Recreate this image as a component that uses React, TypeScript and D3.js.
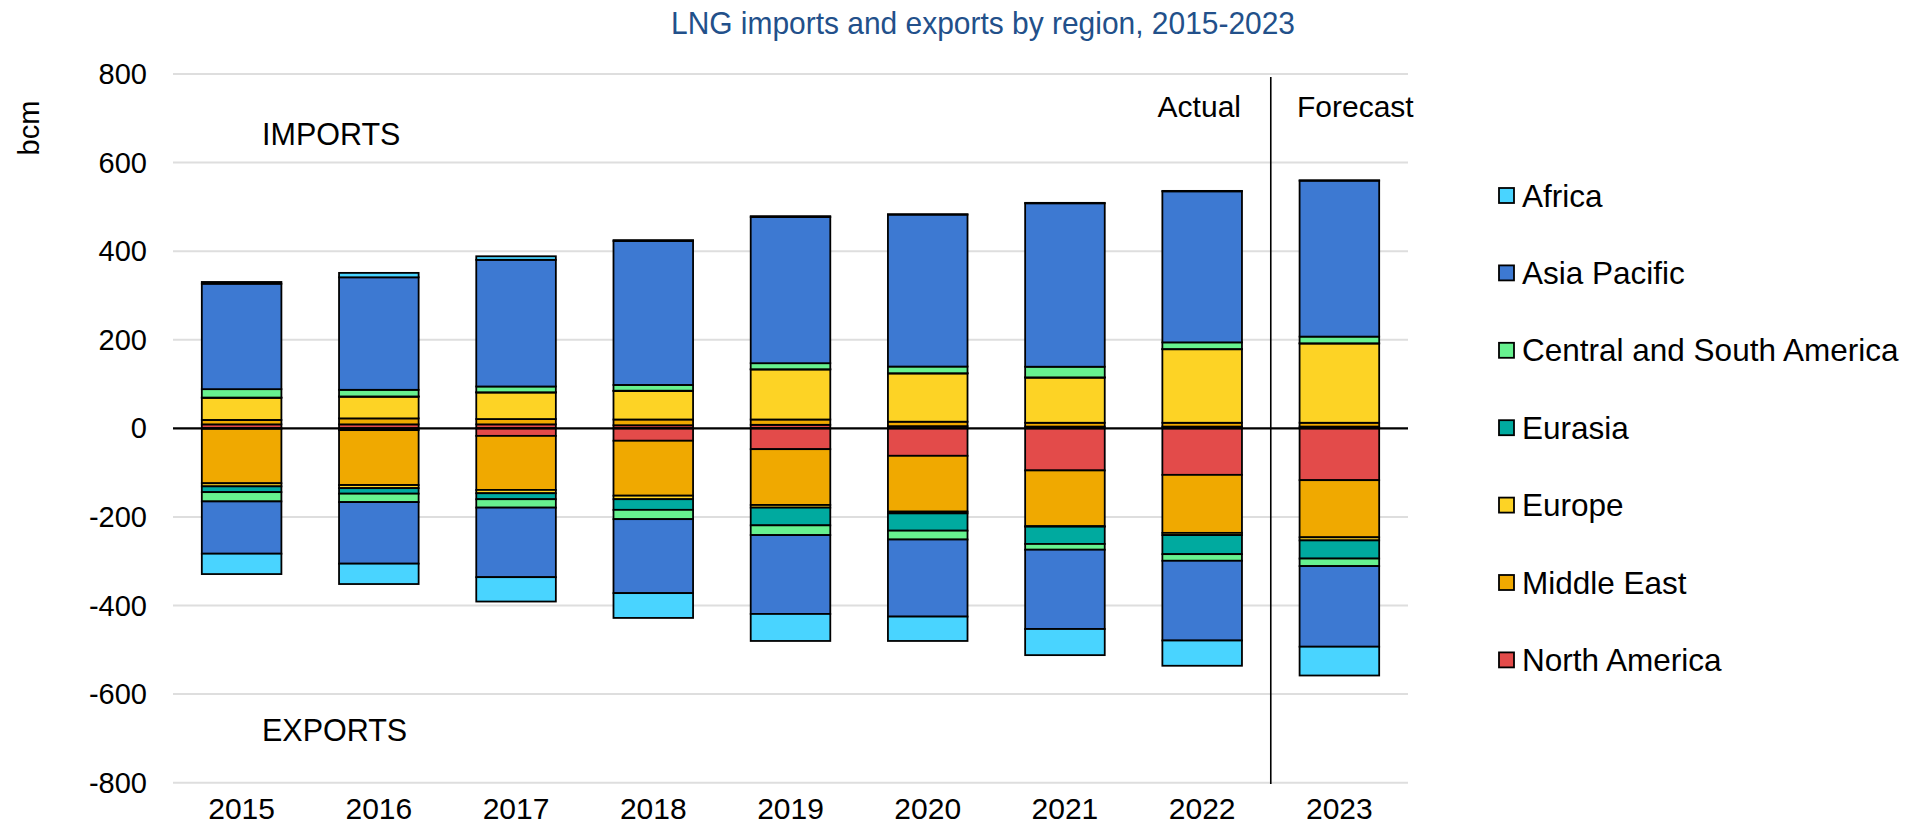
import React from "react";
import * as d3 from "d3";

const years = ["2015", "2016", "2017", "2018", "2019", "2020", "2021", "2022", "2023"];
// stacking order from the zero line outward
const regions = ["North America", "Middle East", "Europe", "Eurasia", "Central and South America", "Asia Pacific", "Africa"];
const legendOrder = ["Africa", "Asia Pacific", "Central and South America", "Eurasia", "Europe", "Middle East", "North America"];
const colors: Record<string, string> = {
  "Africa": "#49D4FF",
  "Asia Pacific": "#3D79D2",
  "Central and South America": "#67F18F",
  "Eurasia": "#00AA9F",
  "Europe": "#FDD325",
  "Middle East": "#F0A900",
  "North America": "#E34B4A",
};

// imports (bcm)
const impNorthAmerica = [9, 9, 9, 7, 8, 5, 4, 4, 4];
const impMiddleEast = [10, 13.5, 12, 13, 12, 10, 8.6, 8.6, 8.6];
const impEurope = [50, 49, 60, 64.5, 113, 109, 102, 166, 179];
const impEurasia = [0.5, 0.5, 0.5, 0.5, 0.5, 0.5, 0.5, 0.5, 0.5];
const impCSA = [19, 15, 13, 13, 13.6, 15, 24, 15, 15];
const impAsiaPacific = [238, 254, 286, 325, 330, 343, 369, 341, 352];
const impAfrica = [4, 10, 8, 2, 2, 1, 1, 1, 1];

// exports (bcm, drawn below zero)
const expNorthAmerica = [1, 4, 17, 28, 47, 62, 95, 105, 117];
const expMiddleEast = [123, 124, 122, 124, 126, 126, 126, 131, 129];
const expEurope = [7, 7, 7.5, 8, 6, 4, 1, 5, 7];
const expEurasia = [13, 12.5, 13.5, 24, 40, 39, 39, 43, 41];
const expCSA = [21, 19, 19, 21, 22, 20, 13, 15, 17];
const expAsiaPacific = [118, 139, 157, 167, 178, 174, 179, 180, 182];
const expAfrica = [46, 46, 55, 56, 61, 55, 59, 57, 65];

const yTicks = [800, 600, 400, 200, 0, -200, -400, -600, -800];

const importSeries = [impNorthAmerica, impMiddleEast, impEurope, impEurasia, impCSA, impAsiaPacific, impAfrica];
const exportSeries = [expNorthAmerica, expMiddleEast, expEurope, expEurasia, expCSA, expAsiaPacific, expAfrica];

const FONT = "'Liberation Sans', Arial, Helvetica, sans-serif";

export default function App() {
  const W = 1906, H = 826;
  const x = d3.scaleBand<string>().domain(years).range([173, 1408]).paddingInner(0.42).paddingOuter(0.21);
  const y = d3.scaleLinear().domain([-800, 800]).range([782.7, 74]);

  const importRows = years.map((yr, i) => {
    const o: any = { year: yr };
    regions.forEach((r, k) => (o[r] = importSeries[k][i]));
    return o;
  });
  const exportRows = years.map((yr, i) => {
    const o: any = { year: yr };
    regions.forEach((r, k) => (o[r] = -exportSeries[k][i]));
    return o;
  });
  const stack = d3.stack<any>().keys(regions).offset(d3.stackOffsetDiverging);
  const impStack = stack(importRows);
  const expStack = stack(exportRows);

  const rects: JSX.Element[] = [];
  [impStack, expStack].forEach((st, si) => {
    st.forEach((layer) => {
      layer.forEach((d, i) => {
        const y0 = y(d[0]);
        const y1 = y(d[1]);
        rects.push(
          <rect
            key={`${si}-${layer.key}-${i}`}
            x={x(years[i])}
            y={Math.min(y0, y1)}
            width={x.bandwidth()}
            height={Math.abs(y1 - y0)}
            fill={colors[layer.key]}
            stroke="#000"
            strokeWidth={1.8}
          />
        );
      });
    });
  });

  const sepX = (x("2022")! + x.bandwidth() + x("2023")!) / 2;

  return (
    <svg width={W} height={H} style={{ position: "absolute", left: 0, top: 0, display: "block", background: "#fff" }} fontFamily={FONT}>
      <text x={983} y={34} textAnchor="middle" fontSize={32} textLength={624} lengthAdjust="spacingAndGlyphs" fill="#22508A">
        LNG imports and exports by region, 2015-2023
      </text>
      {yTicks.filter((t) => t !== 0).map((t) => (
        <line key={t} x1={173} x2={1408} y1={y(t)} y2={y(t)} stroke="#DEDEDE" strokeWidth={2} />
      ))}
      {yTicks.map((t) => (
        <text key={"l" + t} x={147} y={y(t) + 10} textAnchor="end" fontSize={29} fill="#000">
          {t}
        </text>
      ))}
      <text transform="translate(39,128) rotate(-90)" textAnchor="middle" fontSize={29} fill="#000">bcm</text>
      {rects}
      <line x1={173} x2={1408} y1={y(0)} y2={y(0)} stroke="#000" strokeWidth={2.2} />
      <line x1={sepX} x2={sepX} y1={77} y2={784} stroke="#000" strokeWidth={1.6} />
      {years.map((yr) => (
        <text key={"x" + yr} x={x(yr)! + x.bandwidth() / 2} y={819} textAnchor="middle" fontSize={30} fill="#000">
          {yr}
        </text>
      ))}
      <text x={262} y={145} fontSize={30.5} fill="#000">IMPORTS</text>
      <text x={262} y={741} fontSize={30.5} fill="#000">EXPORTS</text>
      <text x={1241} y={116.5} textAnchor="end" fontSize={30} fill="#000">Actual</text>
      <text x={1297} y={116.5} fontSize={30} fill="#000">Forecast</text>
      {legendOrder.map((r, i) => {
        const cy = 195.5 + i * 77.4;
        return (
          <g key={"lg" + r}>
            <rect x={1499} y={cy - 7.5} width={15} height={15} fill={colors[r]} stroke="#000" strokeWidth={1.8} />
            <text x={1522} y={cy + 11} fontSize={31.5} fill="#000">{r}</text>
          </g>
        );
      })}
    </svg>
  );
}
